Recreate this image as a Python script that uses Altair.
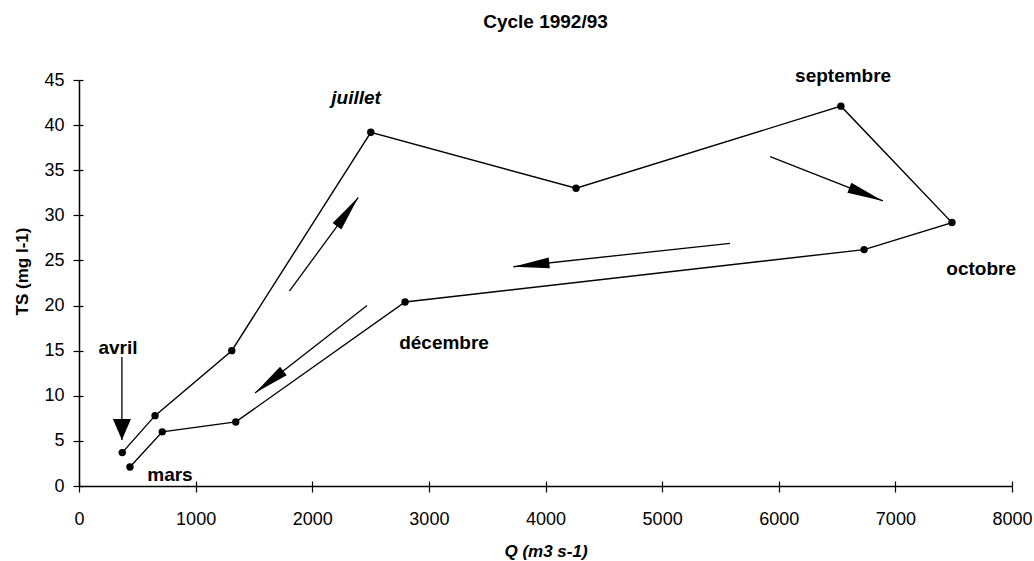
import math
import altair as alt
import pandas as pd

# ---------------- data ----------------
title_text = "Cycle 1992/93"
x_title = "Q (m3 s-1)"
y_title = "TS (mg l-1)"

order = list(range(1, 13))
q_vals = [371, 652, 1310, 2502, 4262, 6533, 7485, 6732, 2796, 1344, 714, 437]
ts_vals = [3.7, 7.8, 15.0, 39.2, 33.0, 42.1, 29.2, 26.2, 20.4, 7.1, 6.0, 2.1]

label_text = ["septembre", "octobre", "décembre", "avril", "mars"]
label_q = [6552, 7736, 3130, 334, 780]
label_ts = [45.4, 24.0, 15.9, 15.3, 1.2]

italic_text = ["juillet"]
italic_q = [2376]
italic_ts = [43.0]

# direction arrows (start -> tip)
arrow_q1 = [1804, 2470, 5583, 5926]
arrow_ts1 = [21.6, 20.0, 26.9, 36.5]
arrow_q2 = [2395, 1509, 3725, 6893]
arrow_ts2 = [32.0, 10.3, 24.3, 31.6]

start_q1 = [368]
start_ts1 = [14.3]
start_q2 = [368]
start_ts2 = [5.1]

x_ticks = list(range(0, 8001, 1000))
y_ticks = list(range(0, 46, 5))

# ---------------- layout ----------------
W, H = 933, 406
XMAX, YMAX = 8000, 45
FONT = "Liberation Sans"

def head_angle(x1, y1, x2, y2):
    dx = (x2 - x1) * W / XMAX
    dy = -(y2 - y1) * H / YMAX  # screen y
    return math.degrees(math.atan2(dx, -dy)) % 360

curve = pd.DataFrame({"ordre": order, "Q": q_vals, "TS": ts_vals})
labels = pd.DataFrame({"t": label_text, "Q": label_q, "TS": label_ts})
italics = pd.DataFrame({"t": italic_text, "Q": italic_q, "TS": italic_ts})
arrows = pd.DataFrame({"Q": arrow_q1, "TS": arrow_ts1, "Q2": arrow_q2, "TS2": arrow_ts2})
arrows["ang"] = [head_angle(a, b, c, d) for a, b, c, d in zip(arrow_q1, arrow_ts1, arrow_q2, arrow_ts2)]
start = pd.DataFrame({"Q": start_q1, "TS": start_ts1, "Q2": start_q2, "TS2": start_ts2})
start["ang"] = [head_angle(a, b, c, d) for a, b, c, d in zip(start_q1, start_ts1, start_q2, start_ts2)]

xs = alt.Scale(domain=[0, XMAX], nice=False)
ys = alt.Scale(domain=[0, YMAX], nice=False)

x_enc = alt.X("Q:Q", scale=xs, axis=alt.Axis(
    values=x_ticks, title=x_title, format="d", labelFlush=False, orient="bottom",
    titleFontStyle="italic", titleY=65, titleBaseline="middle"))
y_enc = alt.Y("TS:Q", scale=ys, axis=alt.Axis(
    values=y_ticks, title=y_title, labelPadding=9, orient="left",
    titleX=-57, titleY=191, titleBaseline="middle", titleAngle=270))

# inner half of the crossing tick marks
x_inner = alt.X("Q:Q", scale=xs, axis=alt.Axis(
    values=x_ticks, title=None, labels=False, domain=False, orient="bottom",
    offset=-5, tickSize=5))
y_inner = alt.Y("TS:Q", scale=ys, axis=alt.Axis(
    values=y_ticks, title=None, labels=False, domain=False, orient="left",
    offset=-4, tickSize=4))

line = alt.Chart(curve).mark_line(color="black", strokeWidth=1.4).encode(
    x=x_enc, y=y_enc, order="ordre:Q")
ticks_in = alt.Chart(curve).mark_circle(opacity=0).encode(x=x_inner, y=y_inner)
dots = alt.Chart(curve).mark_circle(color="black", size=55, opacity=1).encode(
    x="Q:Q", y="TS:Q")

txt = alt.Chart(labels).mark_text(font=FONT, fontSize=19, fontWeight="bold",
                                   color="black", align="center", baseline="middle").encode(
    x="Q:Q", y="TS:Q", text="t:N")
txt_i = alt.Chart(italics).mark_text(font=FONT, fontSize=19, fontWeight="bold", fontStyle="italic",
                                     color="black", align="center", baseline="middle").encode(
    x="Q:Q", y="TS:Q", text="t:N")

arrow_lines = alt.Chart(arrows).mark_rule(color="black", strokeWidth=1.3).encode(
    x="Q:Q", y="TS:Q", x2="Q2:Q", y2="TS2:Q")
arrow_heads = alt.Chart(arrows).mark_point(
    shape="M0,0L-0.15,1L0.15,1Z", filled=True, color="black", opacity=1,
    size=5184, strokeWidth=0).encode(
    x=alt.X("Q2:Q"), y=alt.Y("TS2:Q"), angle=alt.Angle("ang:Q", scale=None))

start_line = alt.Chart(start).mark_rule(color="black", strokeWidth=1.3).encode(
    x="Q:Q", y="TS:Q", x2="Q2:Q", y2="TS2:Q")
start_head = alt.Chart(start).mark_point(
    shape="M0,0L-0.43,1L0.43,1Z", filled=True, color="black", opacity=1,
    size=1764, strokeWidth=0).encode(
    x=alt.X("Q2:Q"), y=alt.Y("TS2:Q"), angle=alt.Angle("ang:Q", scale=None))

main = alt.layer(line, dots, arrow_lines, arrow_heads, start_line, start_head, txt, txt_i)

chart = alt.layer(main, ticks_in).resolve_axis(x="independent", y="independent").properties(
    width=W, height=H,
    title=alt.TitleParams(text=title_text, font=FONT, fontSize=19, fontWeight="bold",
                          anchor="middle", frame="group", offset=20,
                          baseline="alphabetic", color="black"),
    autosize=alt.AutoSizeParams(type="none"),
    padding={"left": 79, "top": 80, "right": 22, "bottom": 75},
).configure_view(stroke=None).configure_axis(
    grid=False, domainColor="black", domainWidth=1.5, tickColor="black", tickWidth=1.2,
    tickSize=6, labelFont=FONT, labelFontSize=18, labelColor="black",
    titleFont=FONT, titleFontSize=17, titleFontWeight="bold", titleColor="black",
).configure_axisX(labelPadding=18)

chart.save("out.html", embed_options={"renderer": "svg", "actions": False})
